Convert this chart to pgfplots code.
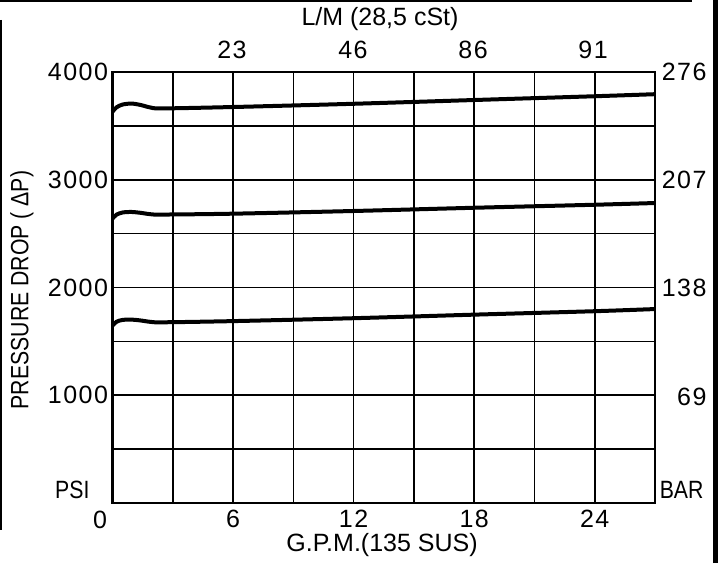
\documentclass[border=0pt]{standalone}
\usepackage{pgfplots}
\pgfplotsset{compat=1.18}
\usepackage{fontspec}
\setmainfont{Liberation Sans}
\newfontfamily\digitfont[LetterSpace=6]{Liberation Sans}
\newfontfamily\cadfont[FakeStretch=0.85]{Liberation Sans}
\begin{document}
\begin{tikzpicture}[x=1pt,y=1pt]
\useasboundingbox (0,0) rectangle (723,563);
% outer drawing frame fragments
\draw[line width=2pt] (0,562) -- (692,562);
\draw[line width=2pt] (1,543) -- (1,33);
\draw[line width=5pt] (715,0) -- (715,563);
\begin{axis}[
  at={(112.5pt,60pt)}, anchor=south west,
  scale only axis, width=542.5pt, height=431pt,
  xmin=0, xmax=27, ymin=0, ymax=4000,
  xtick={0,3,...,27}, ytick={0,500,...,4000},
  xticklabels={{},{},6,{},12,{},18,{},24,{}},
  yticklabels={{},{},1000,{},2000,{},3000,{},4000},
  major tick length=0pt,
  grid=major,
  major grid style={black, line width=1.6pt},
  axis line style={black, line width=2.8pt},
  tick label style={font=\fontsize{25}{28}\digitfont},
  xticklabel style={yshift=-4pt},
  yticklabel style={xshift=-1pt},
  scaled ticks=false,
  clip=false,
]
\addplot[black, line width=4pt, smooth, tension=0.5] coordinates {
 (0,3631) (0.2,3672) (0.5,3698) (0.95,3707) (1.4,3694) (1.9,3670) (2.5,3662)
 (6,3675) (12,3705) (18,3740) (24,3775) (27,3794)};
\addplot[black, line width=4pt, smooth, tension=0.5] coordinates {
 (0,2640) (0.2,2676) (0.5,2696) (0.95,2701) (1.4,2693) (1.9,2680) (2.5,2677)
 (6,2685) (12,2710) (18,2740) (24,2768) (27,2784)};
\addplot[black, line width=4pt, smooth, tension=0.5] coordinates {
 (0,1646) (0.2,1682) (0.5,1699) (0.95,1702) (1.4,1694) (1.9,1681) (2.5,1677)
 (6,1688) (12,1715) (18,1748) (24,1780) (27,1800)};
\end{axis}
\begin{scope}[font=\fontsize{25}{28}\digitfont]
\node at (100,43) {0};
\node[anchor=east] at (710,491) {276};
\node[anchor=east] at (710,383) {207};
\node[anchor=east] at (710,275) {138};
\node[anchor=east] at (710,166) {69};
\node at (232,513) {23};
\node at (353,513) {46};
\node at (473,513) {86};
\node at (593,513) {91};
\end{scope}
\begin{scope}[font=\fontsize{25}{28}\cadfont]
\node[anchor=east] at (93,73) {PSI};
\node[anchor=east] at (707,73) {BAR};
\node[rotate=90] at (22,273) {PRESSURE DROP ( ΔP)};
\end{scope}
\begin{scope}[font=\fontsize{25}{28}\selectfont]
\node at (380,544) {L/M (28,5 cSt)};
\node at (382,18) {G.P.M.(135 SUS)};
\end{scope}
\end{tikzpicture}
\end{document}
